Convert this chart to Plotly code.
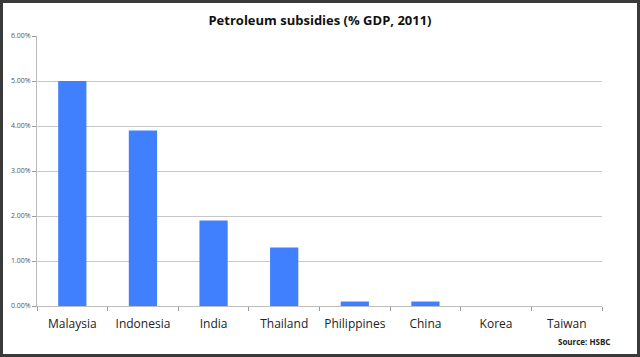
import plotly.graph_objects as go

countries = ["Malaysia", "Indonesia", "India", "Thailand", "Philippines", "China", "Korea", "Taiwan"]
subsidy_pct = [5.0, 3.9, 1.9, 1.3, 0.1, 0.1, 0.0, 0.0]
y_ticks = [0, 1, 2, 3, 4, 5, 6]
y_tick_labels = ["0.00%", "1.00%", "2.00%", "3.00%", "4.00%", "5.00%", "6.00%"]

W, H = 640, 357
ml, mr, mt, mb = 37, 38, 36, 51
pw, ph = W - ml - mr, H - mt - mb

fig = go.Figure(go.Bar(
    x=countries, y=subsidy_pct, marker_color="#4080ff", marker_line_width=0,
    width=0.4,
))

# frame around the whole picture
bw = 3
x0 = (-ml + bw / 2) / pw
x1 = 1 + (mr - bw / 2) / pw
y0 = (-mb + bw / 2) / ph
y1 = 1 + (mt - bw / 2) / ph

fig.update_layout(
    width=W, height=H,
    margin=dict(l=ml, r=mr, t=mt, b=mb, autoexpand=False),
    paper_bgcolor="white", plot_bgcolor="white",
    showlegend=False,
    title=dict(text="<b>Petroleum subsidies (% GDP, 2011)</b>", x=0.5, xanchor="center",
               y=1 - 20 / H, yanchor="middle",
               font=dict(family="Open Sans", size=13, color="#111111")),
    font=dict(family="Open Sans"),
    xaxis=dict(
        type="category", showline=True, linecolor="#bdbdbd", linewidth=1,
        ticks="outside", tickson="boundaries", ticklen=4, tickcolor="#9a9a9a",
        tickangle=0, automargin=False, ticklabelstandoff=7,
        tickfont=dict(size=12, color="#222222"), showgrid=False,
    ),
    yaxis=dict(
        range=[0, 6], tickvals=y_ticks, ticktext=y_tick_labels,
        showline=True, linecolor="#bdbdbd", linewidth=1, automargin=False,
        ticks="outside", ticklen=4, tickcolor="#9a9a9a",
        tickfont=dict(size=7, color="#555555"),
        showgrid=True, gridcolor="#c8c8c8", gridwidth=1, zeroline=False,
    ),
    shapes=[dict(type="rect", xref="paper", yref="paper", x0=x0, x1=x1, y0=y0, y1=y1,
                 line=dict(color="#3a3a3a", width=bw), fillcolor="rgba(0,0,0,0)", layer="above")],
    annotations=[dict(text="<b>Source: HSBC</b>", xref="paper", yref="paper",
                      x=(612 - ml) / pw, y=-(341 - mt - ph) / ph, xanchor="right", yanchor="middle",
                      showarrow=False, font=dict(family="Open Sans", size=8, color="#222222"))],
)

fig.write_html("out.html", config={"displayModeBar": False},
               post_script="document.body.style.margin='0';document.body.style.overflow='hidden';")
